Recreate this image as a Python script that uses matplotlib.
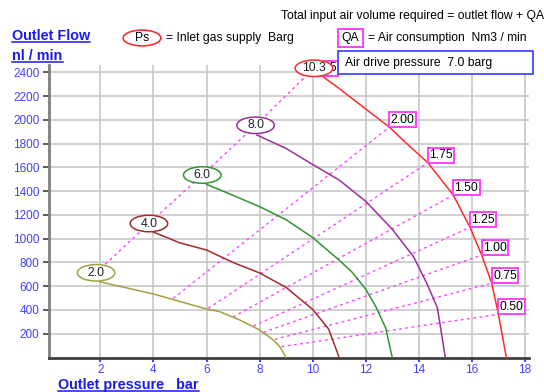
"""Outlet flow vs outlet pressure chart for a gas booster (air drive 7.0 barg)."""

import matplotlib

matplotlib.use("Agg")
import matplotlib.pyplot as plt
from matplotlib.lines import Line2D
from matplotlib.patches import Ellipse, Rectangle

plt.rcParams["font.family"] = ["Liberation Sans", "DejaVu Sans"]

W, H = 544, 392

# Ps curves: inlet gas supply pressure (barg)
ps_labels = ["2.0", "4.0", "6.0", "8.0", "10.3"]
ps_colors = ["#a3a040", "#a32a2a", "#2e962e", "#9a2f9a", "#ff2a2a"]
ps_label_x = [1.84, 3.83, 5.84, 7.85, 10.05]
ps_label_y = [713, 1128, 1536, 1955, 2435]

ps2_x = [2.0, 4.0, 6.0, 6.5, 7.25, 8.0, 8.5, 8.75, 9.0]
ps2_y = [636, 535, 408, 386, 316, 232, 150, 95, 0]
ps4_x = [4.0, 5.0, 6.0, 7.0, 8.0, 9.0, 10.0, 10.6, 11.0]
ps4_y = [1056, 965, 905, 800, 712, 590, 405, 240, 0]
ps6_x = [6.0, 7.0, 8.0, 9.0, 10.0, 11.0, 11.5, 12.0, 12.4, 12.75, 13.0]
ps6_y = [1458, 1365, 1270, 1160, 1010, 820, 715, 575, 420, 250, 0]
ps8_x = [7.9, 9.0, 10.0, 11.0, 12.0, 13.0, 13.8, 14.3, 14.7, 15.0]
ps8_y = [1873, 1760, 1625, 1494, 1315, 1080, 849, 625, 420, 0]
ps10_x = [10.3, 11.0, 12.05, 12.89, 13.5, 14.34, 15.3, 15.93, 16.37, 16.75, 17.0, 17.3]
ps10_y = [2378, 2265, 2083, 1940, 1810, 1640, 1368, 1096, 863, 625, 364, 0]
ps_curves = [(ps2_x, ps2_y), (ps4_x, ps4_y), (ps6_x, ps6_y), (ps8_x, ps8_y), (ps10_x, ps10_y)]

# QA lines: air consumption Nm3/min
qa_labels = ["0.50", "0.75", "1.00", "1.25", "1.50", "1.75", "2.00"]
qa_start_x = [8.83, 8.58, 8.15, 7.77, 7.0, 6.07, 4.75]
qa_start_y = [91, 153, 212, 265, 341, 414, 498]
qa_end_x = [17.0, 16.75, 16.37, 15.93, 15.3, 14.34, 12.89]
qa_end_y = [364, 625, 863, 1096, 1368, 1640, 1940]
qa_top_label = "2.25"

x_ticks = [2, 4, 6, 8, 10, 12, 14, 16, 18]
y_ticks = [200, 400, 600, 800, 1000, 1200, 1400, 1600, 1800, 2000, 2200, 2400]

BLUE = "#1a1aee"
TICK_BLUE = "#4040ff"
MAGENTA = "#ff40ff"


def fx(px):
    return px / W


def fy(py):
    return 1 - py / H


fig = plt.figure(figsize=(W / 100, H / 100), dpi=100)
ax = fig.add_axes([fx(48.9), fy(357.5), (528.9 - 48.9) / W, (357.5 - 65.3) / H])
ax.set_xlim(0.06, 18.15)
ax.set_ylim(0, 2460)

ax.set_xticks(x_ticks)
ax.set_yticks(y_ticks)
ax.grid(color="#c8c8c8", linewidth=1.2)
ax.set_axisbelow(True)
for side in ["top", "right"]:
    ax.spines[side].set_visible(False)
ax.spines["left"].set_color("#808080")
ax.spines["left"].set_linewidth(2)
ax.spines["bottom"].set_color("#404040")
ax.spines["bottom"].set_linewidth(2)
ax.tick_params(axis="y", length=4.3, width=1.2, color="#404040", pad=2.5,
               labelcolor=TICK_BLUE, labelsize=8.5)
ax.tick_params(axis="x", length=3, width=1.2, color="#2020ff", pad=2,
               labelcolor=TICK_BLUE, labelsize=8.5)

# QA dashed lines
ax.plot(ps_label_x, ps_label_y, color=MAGENTA, lw=1, dashes=(2, 2.5), zorder=2)
for lab, x0, y0, x1, y1 in zip(qa_labels, qa_start_x, qa_start_y, qa_end_x, qa_end_y):
    ax.plot([x0, x1], [y0, y1], color=MAGENTA, lw=1, dashes=(2, 2.5), zorder=2)
    ax.text(x1 + 0.05, y1 + 12, lab, ha="left", va="bottom", fontsize=8.7, zorder=5,
            bbox=dict(boxstyle="square,pad=0.12", fc="white", ec=MAGENTA, lw=1.4))
ax.text(10.02, 2385, qa_top_label, ha="left", va="bottom", fontsize=8.7, zorder=5,
        clip_on=False,
        bbox=dict(boxstyle="square,pad=0.12", fc="white", ec=MAGENTA, lw=1.4))

# Ps curves and labels
for (xs, ys), col in zip(ps_curves, ps_colors):
    ax.plot(xs, ys, color=col, lw=1.1, zorder=3)
for lab, col, x, y in zip(ps_labels, ps_colors, ps_label_x, ps_label_y):
    ax.add_patch(Ellipse((x, y), 37.5 / 26.53, 16.5 * 8.418, fc="white", ec=col,
                         lw=1.1, zorder=6, clip_on=False))
    ax.text(x, y, lab, ha="center", va="center", fontsize=8.7, zorder=7, color="#202020")

# header legend
fig.text(fx(281), fy(16), "Total input air volume required = outlet flow + QA",
         ha="left", va="center", fontsize=8.7)
fig.patches.append(Ellipse((fx(142), fy(38)), 37.7 / W, 15.8 / H, fc="white",
                           ec="#ff2020", lw=1.1, transform=fig.transFigure))
fig.text(fx(142), fy(38), "Ps", ha="center", va="center", fontsize=8.7)
fig.text(fx(165.6), fy(38), "= Inlet gas supply  Barg", ha="left", va="center", fontsize=8.7)
fig.patches.append(Rectangle((fx(337.5), fy(46.9)), 25.4 / W, 17.7 / H, fc="white",
                             ec=MAGENTA, lw=1.4, transform=fig.transFigure))
fig.text(fx(350.2), fy(38), "QA", ha="center", va="center", fontsize=8.7)
fig.text(fx(367.5), fy(38), "= Air consumption  Nm3 / min", ha="left", va="center",
         fontsize=8.7)
fig.patches.append(Rectangle((fx(337.5), fy(74)), 195.2 / W, 22.9 / H, fc="white",
                             ec="#3a3aff", lw=1.2, transform=fig.transFigure))
fig.text(fx(344.6), fy(62.7), "Air drive pressure  7.0 barg", ha="left", va="center",
         fontsize=8.7)

# axis titles, underlined
titles = [
    ("Outlet Flow", 12.3, 40.3),
    ("nl / min", 12.3, 60.0),
    ("Outlet pressure   bar", 58.0, 389.0),
]
title_texts = []
for s, px, py in titles:
    t = fig.text(fx(px), fy(py), s, ha="left", va="baseline", fontsize=10.4,
                 fontweight="bold", color=BLUE)
    title_texts.append((t, py))

fig.canvas.draw()
renderer = fig.canvas.get_renderer()
for t, py in title_texts:
    bb = t.get_window_extent(renderer)
    fig.lines.append(Line2D([bb.x0 / W, bb.x1 / W], [fy(py + 2.0), fy(py + 2.0)],
                            color=BLUE, lw=1.1, transform=fig.transFigure))

fig.savefig("out.png", dpi=100)
